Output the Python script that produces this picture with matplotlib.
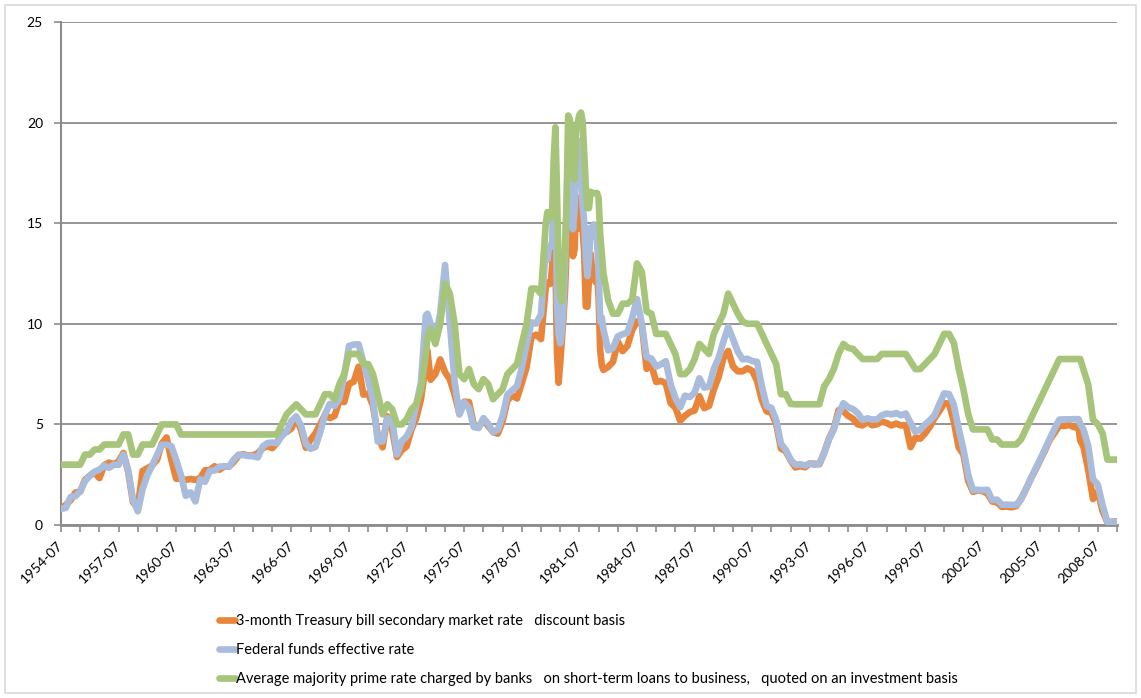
import matplotlib
matplotlib.use("Agg")
import matplotlib.pyplot as plt
from matplotlib.patches import Rectangle

# observation dates (quarterly, monthly around 1980-82)
dates = [
    "1954-07", "1954-10",
    "1955-01", "1955-04", "1955-07", "1955-10",
    "1956-01", "1956-04", "1956-07", "1956-10",
    "1957-01", "1957-04", "1957-07", "1957-10",
    "1958-01", "1958-04", "1958-07", "1958-10",
    "1959-01", "1959-04", "1959-07", "1959-10",
    "1960-01", "1960-04", "1960-07", "1960-10",
    "1961-01", "1961-04", "1961-07", "1961-10",
    "1962-01", "1962-04", "1962-07", "1962-10",
    "1963-01", "1963-04", "1963-07", "1963-10",
    "1964-01", "1964-04", "1964-07", "1964-10",
    "1965-01", "1965-04", "1965-07", "1965-10",
    "1966-01", "1966-04", "1966-07", "1966-10",
    "1967-01", "1967-04", "1967-07", "1967-10",
    "1968-01", "1968-04", "1968-07", "1968-10",
    "1969-01", "1969-04", "1969-07", "1969-10",
    "1970-01", "1970-04", "1970-07", "1970-10",
    "1971-01", "1971-04", "1971-07", "1971-10",
    "1972-01", "1972-04", "1972-07", "1972-10",
    "1973-01", "1973-04", "1973-07", "1973-08", "1973-10",
    "1974-01", "1974-04", "1974-07", "1974-10",
    "1975-01", "1975-04", "1975-07", "1975-10",
    "1976-01", "1976-04", "1976-07", "1976-10",
    "1977-01", "1977-04", "1977-07", "1977-10",
    "1978-01", "1978-04", "1978-07", "1978-10",
    "1979-01", "1979-04", "1979-07", "1979-10", "1979-11", "1979-12",
    "1980-01", "1980-02", "1980-03", "1980-04", "1980-05", "1980-06",
    "1980-07", "1980-08", "1980-09", "1980-10", "1980-11", "1980-12",
    "1981-01", "1981-02", "1981-03", "1981-04", "1981-05", "1981-06",
    "1981-07", "1981-08", "1981-09", "1981-10", "1981-11", "1981-12",
    "1982-01", "1982-02", "1982-03", "1982-04", "1982-05", "1982-06",
    "1982-07", "1982-08", "1982-09", "1982-10",
    "1983-01", "1983-04", "1983-07", "1983-10",
    "1984-01", "1984-04", "1984-07", "1984-10",
    "1985-01", "1985-04", "1985-07", "1985-10",
    "1986-01", "1986-04", "1986-07", "1986-10",
    "1987-01", "1987-04", "1987-07", "1987-10",
    "1988-01", "1988-04", "1988-07", "1988-10",
    "1989-01", "1989-04", "1989-07", "1989-10",
    "1990-01", "1990-04", "1990-07", "1990-10",
    "1991-01", "1991-04", "1991-07", "1991-10",
    "1992-01", "1992-04", "1992-07", "1992-10",
    "1993-01", "1993-04", "1993-07", "1993-10",
    "1994-01", "1994-04", "1994-07", "1994-10",
    "1995-01", "1995-04", "1995-07", "1995-10",
    "1996-01", "1996-04", "1996-07", "1996-10",
    "1997-01", "1997-04", "1997-07", "1997-10",
    "1998-01", "1998-04", "1998-07", "1998-10",
    "1999-01", "1999-04", "1999-07", "1999-10",
    "2000-01", "2000-04", "2000-07", "2000-10",
    "2001-01", "2001-04", "2001-07", "2001-10",
    "2002-01", "2002-04", "2002-07", "2002-10",
    "2003-01", "2003-04", "2003-07", "2003-10",
    "2004-01", "2004-04", "2004-07", "2004-10",
    "2005-01", "2005-04", "2005-07", "2005-10",
    "2006-01", "2006-04", "2006-07", "2006-10",
    "2007-01", "2007-04", "2007-07", "2007-08", "2007-10",
    "2008-01", "2008-04", "2008-07", "2008-10",
    "2009-01", "2009-04", "2009-07",
]

tbill = [
    0.80, 1.00,
    1.23, 1.61, 1.66, 2.25,
    2.45, 2.62, 2.33, 2.97,
    3.10, 3.03, 3.16, 3.58,
    2.64, 1.13, 0.88, 2.69,
    2.82, 2.96, 3.24, 4.05,
    4.35, 3.23, 2.30, 2.30,
    2.24, 2.29, 2.24, 2.33,
    2.72, 2.73, 2.92, 2.75,
    2.91, 2.90, 3.14, 3.45,
    3.52, 3.45, 3.46, 3.57,
    3.81, 3.93, 3.82, 4.08,
    4.59, 4.62, 4.80, 5.36,
    4.72, 3.84, 4.24, 4.55,
    5.00, 5.48, 5.31, 5.42,
    6.17, 6.11, 7.01, 7.13,
    7.87, 6.48, 6.53, 5.93,
    4.44, 3.86, 5.40, 4.74,
    3.38, 3.72, 3.91, 4.74,
    5.31, 6.26, 8.01, 8.67, 7.22,
    7.50, 8.23, 7.60, 7.24,
    6.49, 5.54, 6.13, 6.11,
    4.96, 4.88, 5.23, 4.92,
    4.62, 4.54, 5.15, 6.19,
    6.44, 6.29, 7.05, 7.85,
    9.35, 9.46, 9.24, 11.84, 11.94, 12.06,
    12.00, 12.86, 15.20, 13.20, 8.58, 7.07,
    8.06, 9.13, 10.27, 11.62, 13.73, 15.49,
    15.02, 14.79, 13.36, 13.69, 16.30, 14.73,
    14.95, 15.51, 14.70, 13.54, 10.86, 10.85,
    12.28, 13.48, 12.68, 12.70, 12.09, 12.47,
    11.35, 8.68, 7.92, 7.71,
    7.86, 8.11, 9.12, 8.64,
    8.90, 9.69, 10.12, 9.97,
    7.76, 7.95, 7.11, 7.16,
    7.04, 6.06, 5.83, 5.18,
    5.43, 5.61, 5.69, 6.40,
    5.81, 5.92, 6.73, 7.35,
    8.29, 8.65, 7.88, 7.64,
    7.64, 7.79, 7.66, 7.17,
    6.22, 5.65, 5.58, 5.03,
    3.80, 3.66, 3.21, 2.86,
    2.93, 2.87, 3.06, 3.04,
    3.02, 3.60, 4.30, 4.79,
    5.71, 5.65, 5.42, 5.28,
    5.00, 4.95, 5.14, 4.96,
    5.01, 5.14, 5.07, 4.95,
    5.04, 4.95, 4.96, 3.87,
    4.34, 4.29, 4.55, 4.88,
    5.32, 5.66, 6.05, 6.04,
    5.15, 3.87, 3.51, 2.20,
    1.65, 1.72, 1.68, 1.57,
    1.17, 1.13, 0.90, 0.92,
    0.88, 0.94, 1.30, 1.76,
    2.28, 2.74, 3.22, 3.71,
    4.24, 4.58, 4.95, 4.92,
    4.98, 4.87, 4.82, 4.20, 3.90,
    2.75, 1.29, 1.66, 0.69,
    0.13, 0.16, 0.18,
]

fedfunds = [
    0.80, 0.85,
    1.39, 1.43, 1.68, 2.18,
    2.45, 2.65, 2.75, 2.96,
    2.84, 3.00, 2.99, 3.50,
    2.72, 1.26, 0.68, 1.80,
    2.48, 2.96, 3.47, 3.98,
    3.99, 3.92, 3.23, 2.47,
    1.45, 1.62, 1.17, 2.27,
    2.15, 2.69, 2.71, 2.90,
    2.92, 2.90, 3.26, 3.50,
    3.48, 3.43, 3.42, 3.36,
    3.90, 4.07, 4.10, 4.07,
    4.42, 4.65, 5.17, 5.40,
    4.94, 4.05, 3.79, 3.88,
    4.61, 5.50, 6.02, 5.92,
    6.30, 7.41, 8.90, 8.97,
    8.98, 8.10, 7.21, 6.20,
    4.14, 4.16, 5.31, 5.20,
    3.50, 4.17, 4.40, 4.87,
    5.94, 7.12, 10.40, 10.50, 10.01,
    9.30, 10.51, 12.92, 10.06,
    7.13, 5.49, 6.10, 5.82,
    4.87, 4.82, 5.31, 5.03,
    4.61, 4.73, 5.42, 6.47,
    6.70, 6.90, 7.81, 8.98,
    10.07, 10.01, 10.47, 13.77, 13.18, 13.78,
    13.82, 14.13, 17.19, 17.61, 10.98, 9.47,
    9.03, 9.61, 10.87, 12.81, 15.85, 18.90,
    19.08, 15.93, 14.70, 15.72, 18.52, 19.10,
    19.04, 17.82, 15.87, 15.08, 13.31, 12.37,
    13.22, 14.78, 14.68, 14.94, 14.45, 14.15,
    12.59, 10.12, 10.31, 9.71,
    8.68, 8.80, 9.37, 9.48,
    9.56, 10.29, 11.23, 9.99,
    8.35, 8.27, 7.87, 7.99,
    8.14, 6.99, 6.32, 5.85,
    6.43, 6.36, 6.58, 7.29,
    6.83, 6.87, 7.75, 8.30,
    9.12, 9.84, 9.24, 8.61,
    8.23, 8.26, 8.15, 8.11,
    6.91, 5.91, 5.82, 5.21,
    4.03, 3.73, 3.25, 2.99,
    3.02, 2.96, 3.06, 2.99,
    3.05, 3.56, 4.26, 4.76,
    5.53, 6.05, 5.85, 5.76,
    5.56, 5.22, 5.30, 5.24,
    5.25, 5.45, 5.54, 5.50,
    5.56, 5.45, 5.54, 5.07,
    4.63, 4.74, 4.99, 5.20,
    5.45, 6.02, 6.54, 6.51,
    5.98, 4.80, 3.77, 2.49,
    1.73, 1.75, 1.73, 1.75,
    1.24, 1.26, 1.01, 1.01,
    1.00, 1.00, 1.26, 1.76,
    2.28, 2.79, 3.26, 3.78,
    4.29, 4.79, 5.24, 5.25,
    5.25, 5.26, 5.26, 5.02, 4.76,
    3.94, 2.28, 2.01, 0.97,
    0.15, 0.15, 0.16,
]

prime = [
    3.00, 3.00,
    3.00, 3.00, 3.00, 3.50,
    3.50, 3.75, 3.75, 4.00,
    4.00, 4.00, 4.00, 4.50,
    4.50, 3.50, 3.50, 4.00,
    4.00, 4.00, 4.50, 5.00,
    5.00, 5.00, 5.00, 4.50,
    4.50, 4.50, 4.50, 4.50,
    4.50, 4.50, 4.50, 4.50,
    4.50, 4.50, 4.50, 4.50,
    4.50, 4.50, 4.50, 4.50,
    4.50, 4.50, 4.50, 4.50,
    5.00, 5.50, 5.75, 6.00,
    5.75, 5.50, 5.50, 5.50,
    6.00, 6.50, 6.50, 6.25,
    7.00, 7.50, 8.50, 8.50,
    8.50, 8.00, 8.00, 7.50,
    6.50, 5.50, 6.00, 5.75,
    5.00, 5.00, 5.25, 5.75,
    6.00, 6.75, 8.50, 9.25, 9.75,
    9.00, 10.00, 12.00, 11.50,
    10.00, 7.50, 7.25, 7.75,
    7.00, 6.75, 7.25, 7.00,
    6.25, 6.50, 6.75, 7.50,
    7.75, 8.00, 9.00, 10.00,
    11.75, 11.75, 11.50, 15.00, 15.55, 15.30,
    15.25, 15.63, 18.31, 19.77, 16.57, 12.63,
    11.48, 11.12, 12.23, 13.79, 16.06, 20.35,
    20.16, 19.43, 18.05, 17.15, 19.61, 20.03,
    20.39, 20.50, 20.08, 18.45, 16.84, 15.75,
    15.75, 16.56, 16.50, 16.50, 16.50, 16.50,
    16.26, 14.39, 13.50, 12.52,
    11.16, 10.50, 10.50, 11.00,
    11.00, 11.21, 13.00, 12.58,
    10.61, 10.50, 9.50, 9.50,
    9.50, 9.00, 8.50, 7.50,
    7.50, 7.75, 8.25, 9.00,
    8.75, 8.50, 9.50, 10.00,
    10.50, 11.50, 11.00, 10.50,
    10.11, 10.00, 10.00, 10.00,
    9.52, 9.00, 8.50, 8.00,
    6.50, 6.50, 6.02, 6.00,
    6.00, 6.00, 6.00, 6.00,
    6.00, 6.90, 7.25, 7.75,
    8.50, 9.00, 8.80, 8.75,
    8.50, 8.25, 8.25, 8.25,
    8.25, 8.50, 8.50, 8.50,
    8.50, 8.50, 8.50, 8.12,
    7.75, 7.75, 8.00, 8.25,
    8.50, 9.00, 9.50, 9.50,
    9.05, 7.80, 6.75, 5.50,
    4.75, 4.75, 4.75, 4.75,
    4.25, 4.25, 4.00, 4.00,
    4.00, 4.00, 4.25, 4.75,
    5.25, 5.75, 6.25, 6.75,
    7.26, 7.75, 8.25, 8.25,
    8.25, 8.25, 8.25, 8.25, 7.74,
    6.98, 5.24, 5.00, 4.56,
    3.25, 3.25, 3.25,
]

tick_labels = ["1954-07", "1957-07", "1960-07", "1963-07", "1966-07", "1969-07",
               "1972-07", "1975-07", "1978-07", "1981-07", "1984-07", "1987-07",
               "1990-07", "1993-07", "1996-07", "1999-07", "2002-07", "2005-07",
               "2008-07"]

series_names = [
    "3-month Treasury bill secondary market rate   discount basis",
    "Federal funds effective rate",
    "Average majority prime rate charged by banks   on short-term loans to business,   quoted on an investment basis",
]
colors = ["#E8853B", "#A9BCDB", "#A7C57A"]

assert len(dates) == len(tbill) == len(fedfunds) == len(prime)


def month_index(s):
    # months counted from 1954-07 (Excel category axis)
    return (int(s[:4]) - 1954) * 12 + int(s[5:7]) - 7


plt.rcParams['font.family'] = ['Lato', 'DejaVu Sans']

x = [month_index(d) for d in dates]

fig = plt.figure(figsize=(11.41, 6.98), dpi=100)
ax = fig.add_axes([61 / 1141, 173 / 698, 1056 / 1141, 503 / 698])

lines = []
for vals, c, name in zip([tbill, fedfunds, prime], colors, series_names):
    ln, = ax.plot(x, vals, color=c, lw=4.8, solid_joinstyle="round",
                  solid_capstyle="round", label=name, zorder=3)
    lines.append(ln)

ax.set_xlim(0, 660)
ax.set_ylim(0, 25)
ax.set_yticks(range(0, 26, 5))
ax.grid(axis="y", color="#8c8c8c", lw=1.3)
ax.set_axisbelow(True)

ax.set_xticks([month_index(t) for t in tick_labels])
ax.set_xticklabels(tick_labels, rotation=45, ha="right", va="center",
                   rotation_mode="anchor")
ax.set_xticks(range(0, 661, 12), minor=True)
ax.tick_params(axis="x", which="both", length=5, width=1.2, color="#8c8c8c",
               direction="out", pad=8, labelsize=10)
ax.tick_params(axis="y", length=5, width=1.2, color="#8c8c8c", pad=8, labelsize=10)

for side in ["top", "right"]:
    ax.spines[side].set_visible(False)
ax.spines["left"].set_color("#8c8c8c")
ax.spines["left"].set_linewidth(1.5)
ax.spines["bottom"].set_color("#8c8c8c")
ax.spines["bottom"].set_linewidth(2)

fig.legend(handles=lines, labels=series_names, loc="upper left",
           bbox_to_anchor=(219 / 1141, 1 - 614 / 698), frameon=False,
           handlelength=1.1, handletextpad=0.05, labelspacing=1.03,
           fontsize=10.5, borderpad=0, borderaxespad=0)

# chart area border
fig.patches.append(Rectangle((5 / 1141, 5 / 698), 1131 / 1141, 688 / 698,
                             transform=fig.transFigure, fill=False,
                             ec="#d9d9d9", lw=1.2))

fig.savefig("out.png", dpi=100)
